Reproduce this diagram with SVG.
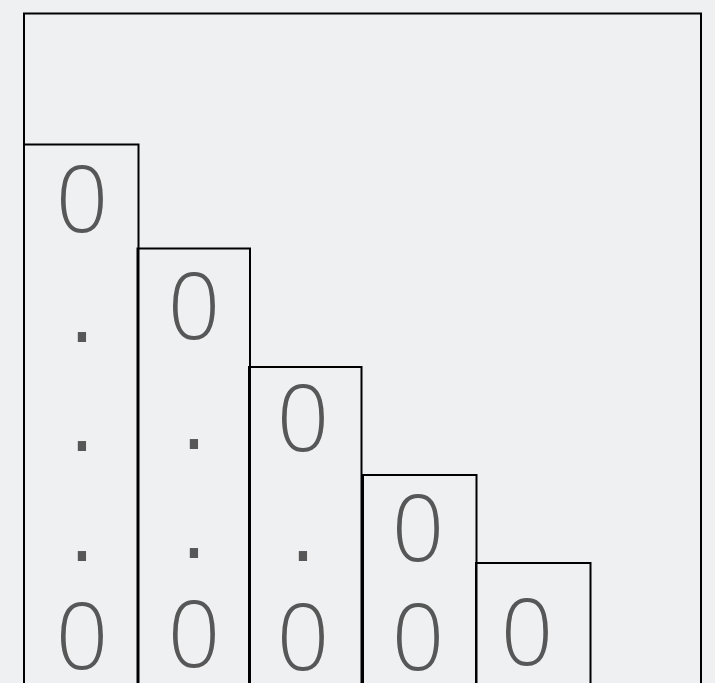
<svg xmlns="http://www.w3.org/2000/svg" width="715" height="683" viewBox="0 0 715 683">
<style>
.box{fill:none;stroke:#000;stroke-width:2}
.t{font-family:"Open Sans","Liberation Sans",sans-serif;font-weight:300;font-size:92px;fill:#575757;text-anchor:middle}
.d{font-family:"DejaVu Sans",sans-serif;font-size:80px;fill:#575757;text-anchor:middle}
</style>
<rect width="715" height="683" fill="#eff0f2"/>
<g id="outer"><rect class="box" x="24" y="13.5" width="677" height="700"/></g>
<g id="col1">
<rect class="box" x="24" y="144.5" width="114.5" height="560"/>
<text class="t" x="82" y="232">0</text>
<text class="d" x="82" y="342">.</text>
<text class="d" x="82" y="451">.</text>
<text class="d" x="82" y="561">.</text>
<text class="t" x="82" y="669">0</text>
</g>
<g id="col2">
<rect class="box" x="137.5" y="248.5" width="112.5" height="460"/>
<text class="t" x="194" y="339">0</text>
<text class="d" x="194" y="449">.</text>
<text class="d" x="194" y="558">.</text>
<text class="t" x="194" y="667">0</text>
</g>
<g id="col3">
<rect class="box" x="249" y="367" width="112.5" height="340"/>
<text class="t" x="303" y="451">0</text>
<text class="d" x="303" y="561">.</text>
<text class="t" x="303" y="670">0</text>
</g>
<g id="col4">
<rect class="box" x="363" y="475" width="113.5" height="240"/>
<text class="t" x="418" y="561">0</text>
<text class="t" x="418" y="670">0</text>
</g>
<g id="col5">
<rect class="box" x="476" y="563" width="114.5" height="140"/>
<text class="t" x="527" y="665">0</text>
</g>
</svg>
